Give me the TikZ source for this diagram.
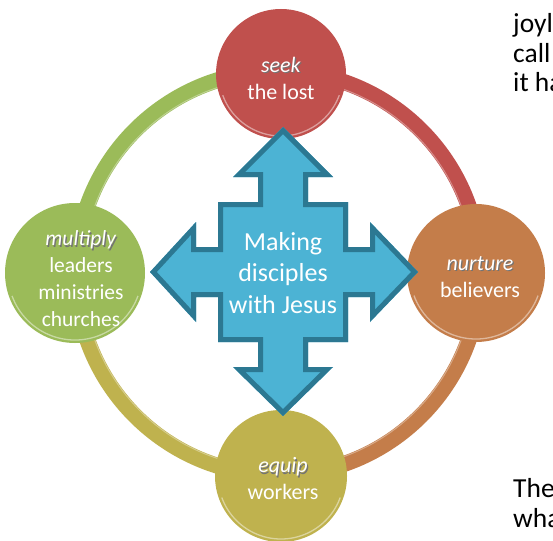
\documentclass[tikz,border=0pt]{standalone}
\usepackage{fontspec}
\setmainfont{Carlito}
\definecolor{cRed}{HTML}{C0504D}
\definecolor{cOrange}{HTML}{C47D4A}
\definecolor{cYellow}{HTML}{BFB24E}
\definecolor{cGreen}{HTML}{9BBB59}
\definecolor{aLight}{HTML}{4CB3D4}
\definecolor{aDark}{HTML}{2C7892}
\newcommand\shd[1]{\makebox[0pt][l]{\hspace{1.2pt}\raisebox{-1.2pt}{\color{black!55}#1}}#1}
\begin{document}
\begin{tikzpicture}[x=1pt,y=-1pt,
  ringarc/.style={line width=16pt},
  bub/.style={circle, minimum size=#1, inner sep=0pt},
  bubtext/.style={text=white, align=center, font=\fontsize{22}{27}\selectfont},
  gloss/.style={white, opacity=.45, line width=1.3pt},
  doctext/.style={anchor=base west, inner sep=0pt, font=\fontsize{27.5}{30}\selectfont, text=black},
  arrowshape/.style={insert path={(283,127) -- (333,177) -- (308,177) -- (308,202) -- (348,202) -- (348,247) -- (370,247) -- (370,222) -- (418,272) -- (370,322) -- (370,297) -- (348,297) -- (348,342) -- (308,342) -- (308,367) -- (333,367) -- (283,416) -- (233,367) -- (258,367) -- (258,342) -- (218,342) -- (218,297) -- (196,297) -- (196,322) -- (150,272) -- (196,222) -- (196,247) -- (218,247) -- (218,202) -- (258,202) -- (258,177) -- (233,177) -- cycle}}
]
\useasboundingbox (0,0) rectangle (553,540);
\clip (0,0) rectangle (553,540);
\fill[white] (0,0) rectangle (553,540);

% ring
\coordinate (rc) at (278,273);
\draw[ringarc, cRed]    (rc) ++(0:202)   arc[start angle=0,   end angle=-90,  radius=202];
\draw[ringarc, cGreen]  (rc) ++(-90:202) arc[start angle=-90, end angle=-180, radius=202];
\draw[ringarc, cYellow] (rc) ++(180:202) arc[start angle=180, end angle=90,   radius=202];
\draw[ringarc, cOrange] (rc) ++(90:202)  arc[start angle=90,  end angle=0,    radius=202];
\draw[white, opacity=.35, line width=1pt] (rc) circle[radius=195];

% circles
\node[bub=130pt, fill=cRed]    (seekc)  at (281,74)  {};
\node[bub=138pt, fill=cOrange] (nurc)   at (476,273) {};
\node[bub=132pt, fill=cYellow] (equc)   at (281,476) {};
\node[bub=140pt, fill=cGreen]  (mulc)   at (75,273)  {};
\foreach \c/\r in {seekc/62, nurc/66, equc/63, mulc/67}{
  \draw[gloss] (\c.center) ++(20:\r) arc[start angle=20, end angle=160, radius=\r];
}

% arrow
\fill[aLight, arrowshape];
\begin{scope}
  \clip[arrowshape];
  \draw[aDark, line width=10pt, line join=miter, arrowshape];
\end{scope}

% texts
\node[bubtext] (seekt) at (281,78)  {\shd{\textit{seek}}\\the lost};
\node[bubtext] (nurt)  at (480,277) {\shd{\textit{nurture}}\\believers};
\node[bubtext] (equt)  at (283,479) {\shd{\textit{equip}}\\workers};
\node[bubtext, font=\fontsize{21.5}{27}\selectfont] (mult) at (81,279) {\shd{\textit{multiply}}\\leaders\\ministries\\churches};
\node[text=white, align=center, font=\fontsize{26}{31.5}\selectfont] (mk) at (283,273) {Making\\disciples\\with Jesus};

% document text at right (cut by the page edge, as in the reference)
\node[doctext] (d1) at (513,33)  {joyl};
\node[doctext] (d2) at (513,63)  {call};
\node[doctext] (d3) at (513,92)  {it ha};
\node[doctext] (d4) at (513,497) {The};
\node[doctext] (d5) at (513,527) {wha};
\end{tikzpicture}
\end{document}
